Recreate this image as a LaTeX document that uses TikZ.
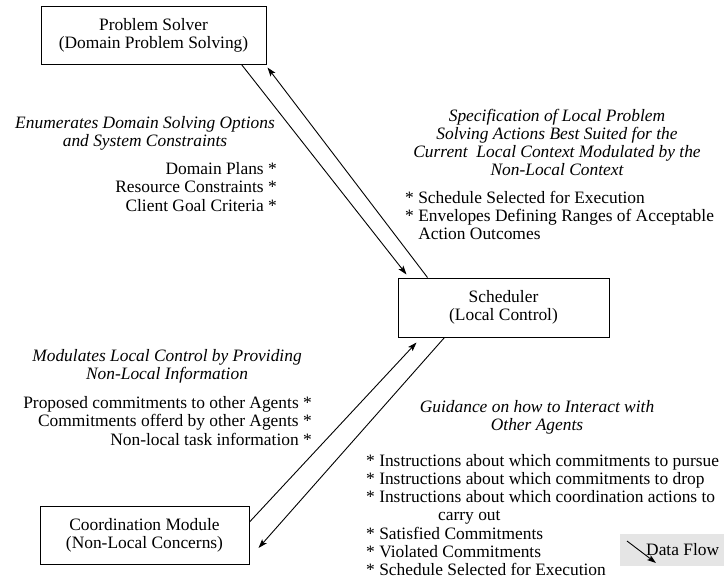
\documentclass[tikz,border=0pt]{standalone}
\usepackage{fontspec}
\setmainfont{Liberation Serif}
\usetikzlibrary{arrows.meta}
\begin{document}
\begin{tikzpicture}[x=1pt,y=-1pt,
  txt/.style={inner sep=0pt,font=\fontsize{17.4}{18.3}\selectfont},
  itxt/.style={txt,font=\fontsize{17.4}{18.3}\selectfont\itshape,align=center},
  module/.style={draw,line width=1pt,inner sep=0pt,align=center,
    font=\fontsize{17.4}{18.3}\selectfont},
  flow/.style={line width=0.9pt,-{Stealth[length=9pt,width=6pt,inset=2pt]}},
  legendbox/.style={fill=black!10,inner sep=0pt,minimum width=104pt,minimum height=32pt}]
\useasboundingbox (0,0) rectangle (724,587);

% modules
\node[module,minimum width=225pt,minimum height=58pt] (ps) at (153.5,35)
  {Problem Solver\\(Domain Problem Solving)};
\node[module,minimum width=211pt,minimum height=59pt] (sch) at (503.5,307.5)
  {Scheduler\\(Local Control)};
\node[module,minimum width=209pt,minimum height=58pt] (cm) at (144.5,535)
  {Coordination Module\\(Non-Local Concerns)};

% data flows between the modules
\draw[flow] ([xshift=-25pt]ps.south east) -- ([xshift=9pt,yshift=3pt]sch.north west);
\draw[flow] ([xshift=30pt]sch.north west) -- ([xshift=1pt,yshift=-3pt]ps.south east);
\draw[flow] ([yshift=13pt]cm.east) -- ([xshift=19pt,yshift=-5pt]sch.south west);
\draw[flow] ([xshift=47pt]sch.south west) -- ([xshift=9pt,yshift=-13pt]cm.east);

% problem solver -> scheduler
\node[itxt] (enum) at (145,133.5)
  {Enumerates Domain Solving Options\\and System Constraints};
\node[txt,align=right,anchor=east] (enuml) at (277,187)
  {Domain Plans *\\Resource Constraints *\\Client Goal Criteria *};

% scheduler -> problem solver
\node[itxt] (spec) at (557,142.5)
  {Specification of Local Problem\\Solving Actions Best Suited for the\\
   Current\ \ Local Context Modulated by the\\Non-Local Context};
\node[txt,align=left,anchor=west] (specl) at (405,215.5)
  {* Schedule Selected for Execution\\
   * Envelopes Defining Ranges of Acceptable\\
   \hphantom{*}\ Action Outcomes};

% coordination module -> scheduler
\node[itxt] (mod) at (167,366)
  {Modulates Local Control by Providing\\Non-Local Information};
\node[txt,align=right,anchor=east] (modl) at (312,421)
  {Proposed commitments to other Agents *\\
   Commitments offerd by other Agents *\\
   Non-local task information *};

% scheduler -> coordination module
\node[itxt] (guide) at (537,417)
  {Guidance on how to Interact with\\Other Agents};
\node[txt,align=left,anchor=west] (guidel) at (366,515)
  {* Instructions about which commitments to pursue\\
   * Instructions about which commitments to drop\\
   * Instructions about which coordination actions to\\
   \hspace*{72pt}carry out\\
   * Satisfied Commitments\\
   * Violated Commitments\\
   * Schedule Selected for Execution};

% legend
\node[legendbox] (lg) at (672,550) {};
\node[txt,anchor=west] (lgt) at (646,550) {Data Flow};
\coordinate (la) at (627,541);
\coordinate (lb) at (656,563);
\draw[flow] (la) -- (lb);
\end{tikzpicture}
\end{document}
